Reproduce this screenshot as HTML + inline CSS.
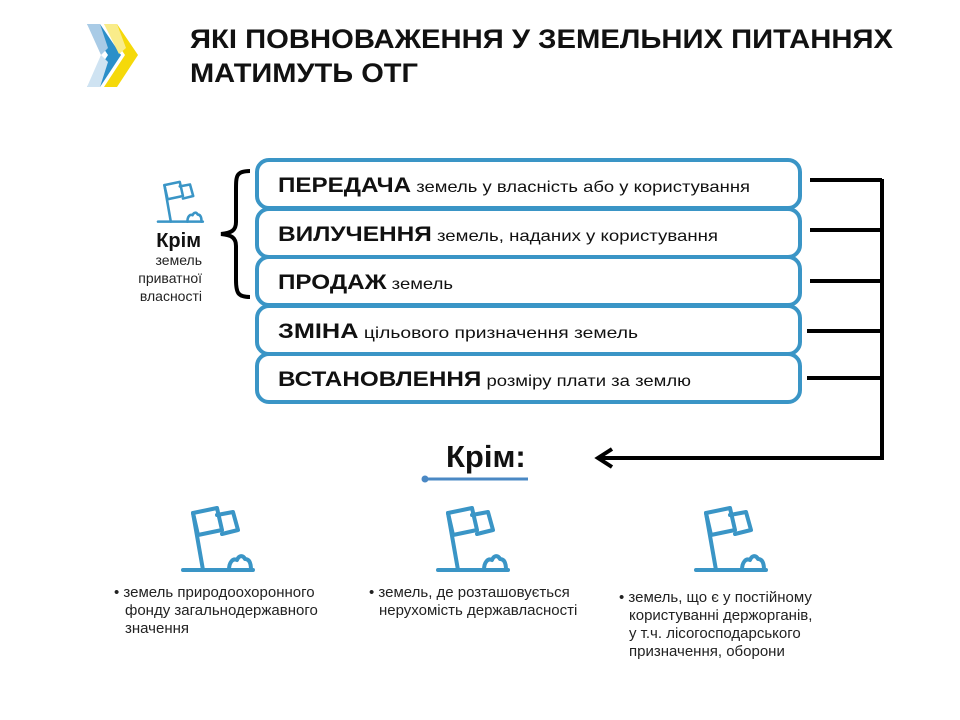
<!DOCTYPE html>
<html><head><meta charset="utf-8"><style>
html,body{margin:0;padding:0;background:#fff;}
svg{display:block;font-family:"Liberation Sans","DejaVu Sans",sans-serif;}
.n{font-family:"Liberation Sans Narrow","Liberation Sans",sans-serif;font-size:15px;fill:#222;}
</style></head><body>
<svg width="960" height="720" viewBox="0 0 960 720" xmlns="http://www.w3.org/2000/svg">
<defs>
<g id="ic" fill="none" stroke="#3a95c6" stroke-width="4" stroke-linejoin="round" stroke-linecap="round">
<path d="M0 65 H70"/>
<path d="M20 65 L10 8"/>
<path d="M10 8 L34 3 L39 25 L15 30 Z"/>
<path d="M34 10 L50 7 L55 25 L39 29"/>
<path d="M46 65 C46 57 50 53 54 55 C56 50 60 50 62 54 C66 54 68 58 68 65"/>
</g>
</defs>
<!-- logo -->
<polygon points="87,24 100,24 121,55 100,87 87,87 108,55" fill="#2b8fc9"/>
<polygon points="87,24 100,24 108,48 101,55" fill="#a9cbe6"/>
<polygon points="87,87 100,87 108,62 101,55" fill="#cfe3f2"/>
<polygon points="104,24 117,24 138,55 117,87 104,87 125,55" fill="#f5d90a"/>
<polygon points="104,24 117,24 126,48 119,54" fill="#f9ec8a"/>
<!-- title -->
<text x="190" y="48" font-size="27" font-weight="bold" fill="#111" textLength="703" lengthAdjust="spacingAndGlyphs">ЯКІ ПОВНОВАЖЕННЯ У ЗЕМЕЛЬНИХ ПИТАННЯХ</text>
<text x="190" y="82" font-size="27" font-weight="bold" fill="#111" textLength="228" lengthAdjust="spacingAndGlyphs">МАТИМУТЬ ОТГ</text>
<!-- left icon + label -->
<g transform="translate(158,180) scale(0.64)"><use href="#ic"/></g>
<text x="201" y="247" font-size="20" font-weight="bold" fill="#111" text-anchor="end">Крім</text>
<text x="202" y="265" font-size="14" fill="#222" text-anchor="end">земель</text>
<text x="202" y="283" font-size="14" fill="#222" text-anchor="end">приватної</text>
<text x="202" y="301" font-size="14" fill="#222" text-anchor="end">власності</text>
<!-- brace -->
<path d="M250 171 C236 171 236 176 236 190 L236 222 C236 230 232 233 221 234 C232 235 236 238 236 246 L236 280 C236 293 238 297 250 297" fill="none" stroke="#000" stroke-width="4"/>
<!-- boxes -->
<g fill="#fff" stroke="#3a95c6" stroke-width="4">
<rect x="257" y="160" width="543" height="48" rx="12"/>
<rect x="257" y="209" width="543" height="48" rx="12"/>
<rect x="257" y="257" width="543" height="48" rx="12"/>
<rect x="257" y="306" width="543" height="48" rx="12"/>
<rect x="257" y="354" width="543" height="48" rx="12"/>
</g>
<g fill="#111" font-size="16">
<text x="278" y="192" textLength="472" lengthAdjust="spacingAndGlyphs"><tspan font-size="21" font-weight="bold">ПЕРЕДАЧА</tspan> земель у власність або у користування</text>
<text x="278" y="241" textLength="440" lengthAdjust="spacingAndGlyphs"><tspan font-size="21" font-weight="bold">ВИЛУЧЕННЯ</tspan> земель, наданих у користування</text>
<text x="278" y="289" textLength="175" lengthAdjust="spacingAndGlyphs"><tspan font-size="21" font-weight="bold">ПРОДАЖ</tspan> земель</text>
<text x="278" y="338" textLength="360" lengthAdjust="spacingAndGlyphs"><tspan font-size="21" font-weight="bold">ЗМІНА</tspan> цільового призначення земель</text>
<text x="278" y="386" textLength="413" lengthAdjust="spacingAndGlyphs"><tspan font-size="21" font-weight="bold">ВСТАНОВЛЕННЯ</tspan> розміру плати за землю</text>
</g>
<!-- connectors -->
<g stroke="#000" stroke-width="4" fill="none">
<path d="M810 180 H882 M810 230 H882 M810 281 H882 M807 331 H882 M807 378 H882"/>
<path d="M882 179 V458 H598"/>
<path d="M612 449 L598 458 L612 467"/>
</g>
<!-- Крім: -->
<text x="446" y="467" font-size="31" font-weight="bold" fill="#111">Крім:</text>
<line x1="425" y1="479" x2="528" y2="479" stroke="#4a88c4" stroke-width="3"/>
<circle cx="425" cy="479" r="3.5" fill="#4a88c4"/>
<!-- bottom icons -->
<g transform="translate(183,505)"><use href="#ic"/></g>
<g transform="translate(438,505)"><use href="#ic"/></g>
<g transform="translate(696,505)"><use href="#ic"/></g>
<g class="n">
<text x="114" y="597">• земель природоохоронного</text>
<text x="125" y="615">фонду загальнодержавного</text>
<text x="125" y="633">значення</text>
<text x="369" y="597">• земель, де розташовується</text>
<text x="379" y="615">нерухомість державласності</text>
<text x="619" y="602">• земель, що є у постійному</text>
<text x="629" y="620">користуванні держорганів,</text>
<text x="629" y="638">у т.ч. лісогосподарського</text>
<text x="629" y="656">призначення, оборони</text>
</g>
</svg>
</body></html>
